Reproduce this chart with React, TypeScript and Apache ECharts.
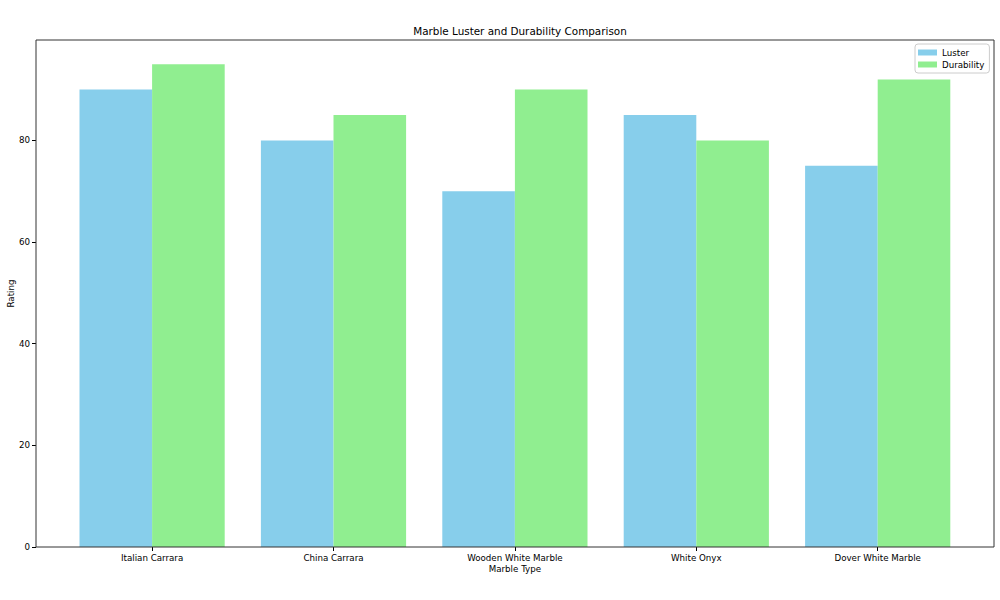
import React, { useEffect, useRef } from "react";
import * as echarts from "echarts";

const categories = ["Italian Carrara", "China Carrara", "Wooden White Marble", "White Onyx", "Dover White Marble"];
const luster = [90, 80, 70, 85, 75];
const durability = [95, 85, 90, 80, 92];
const yTicks = [0, 20, 40, 60, 80];

export default function App() {
  const ref = useRef<HTMLDivElement>(null);
  useEffect(() => {
    if (!ref.current) return;
    const chart = echarts.init(ref.current, null, { renderer: "svg" });
    const font = "DejaVu Sans";
    const fs = 8.7;
    chart.setOption({
      animation: false,
      backgroundColor: "#ffffff",
      title: {
        text: "Marble Luster and Durability Comparison",
        left: 515,
        textAlign: "center",
        top: 21,
        textStyle: { fontFamily: font, fontSize: 10.4, fontWeight: "normal", color: "#000" },
      },
      legend: {
        orient: "vertical",
        left: 915,
        top: 44,
        padding: [4, 5, 4, 3],
        itemGap: 3,
        itemWidth: 19,
        itemHeight: 6,
        borderColor: "#cccccc",
        borderWidth: 1,
        borderRadius: 3,
        icon: "rect",
        textStyle: { fontFamily: font, fontSize: fs, color: "#000" },
        data: ["Luster", "Durability"],
      },
      grid: { left: 61.4, right: 31.6, top: 40, bottom: 53, containLabel: false, outerBoundsMode: "none" },
      xAxis: {
        type: "category",
        data: categories,
        name: "Marble Type",
        nameLocation: "middle",
        nameGap: 17,
        nameMoveOverlap: false,
        nameTextStyle: { fontFamily: font, fontSize: fs, color: "#000" },
        axisLine: { show: false },
        axisTick: { show: true, alignWithLabel: true, length: 4, lineStyle: { color: "#000" } },
        axisLabel: { fontFamily: font, fontSize: fs, color: "#000", margin: 6 },
      },
      yAxis: {
        type: "value",
        min: 0,
        max: 99.75,
        interval: 20,
        offset: 25.4,
        name: "Rating",
        nameLocation: "middle",
        nameGap: 21,
        nameMoveOverlap: false,
        nameTextStyle: { fontFamily: font, fontSize: fs, color: "#000" },
        axisLine: { show: false },
        axisTick: { show: true, length: 4, lineStyle: { color: "#000" } },
        axisLabel: {
          fontFamily: font,
          fontSize: fs,
          color: "#000",
          margin: 6,
          showMaxLabel: false,
          formatter: (v: number) => (yTicks.includes(v) ? String(v) : ""),
        },
        splitLine: { show: false },
      },
      graphic: [
        {
          type: "rect",
          shape: { x: 36, y: 40, width: 958, height: 507 },
          style: { fill: "none", stroke: "#333", lineWidth: 1 },
          z: 100,
          silent: true,
        },
      ],
      series: [
        {
          name: "Luster",
          type: "bar",
          data: luster,
          barWidth: 72.6,
          barGap: "0%",
          itemStyle: { color: "#87CEEB" },
        },
        {
          name: "Durability",
          type: "bar",
          data: durability,
          barWidth: 72.6,
          barGap: "0%",
          itemStyle: { color: "#90EE90" },
        },
      ],
    });
    return () => chart.dispose();
  }, []);
  return <div ref={ref} style={{ position: "fixed", left: 0, top: 0, width: 1000, height: 600 }} />;
}
